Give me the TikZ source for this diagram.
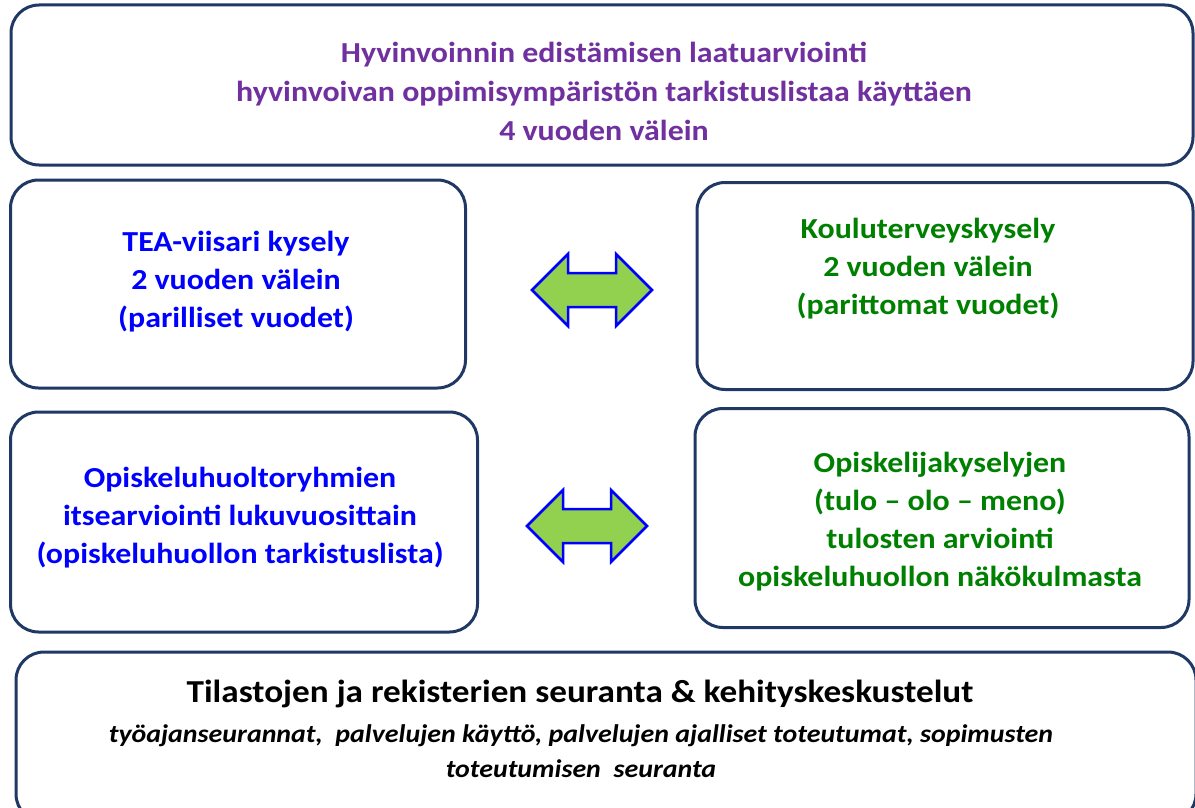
\documentclass[tikz,border=0pt]{standalone}
\usepackage{fontspec}
\setmainfont{Carlito}
\newfontfamily\boxfont[FakeStretch=1.1,Ligatures=TeX]{Carlito}
\definecolor{boxline}{RGB}{31,56,100}
\definecolor{titlepurple}{RGB}{112,48,160}
\definecolor{textblue}{RGB}{0,0,255}
\definecolor{textgreen}{RGB}{0,128,0}
\definecolor{arrowfill}{RGB}{146,208,80}
\tikzset{
  card/.style={draw=boxline,line width=3pt,rounded corners=28pt,fill=white,inner sep=0pt},
  label/.style={align=center,font=\boxfont\bfseries\fontsize{29}{38}\selectfont,inner sep=0pt},
  dblarrow/.pic={
    \draw[draw=textblue,line width=2.5pt,fill=arrowfill,line join=miter]
      (-60,0) -- (-24,36) -- (-24,17) -- (24,17) -- (24,36) -- (60,0)
      -- (24,-36) -- (24,-17) -- (-24,-17) -- (-24,-36) -- cycle;
  }
}
\begin{document}
\begin{tikzpicture}[x=1pt,y=-1pt]
  \useasboundingbox (0,0) rectangle (1195,808);
  % boxes
  \node[card,minimum width=1182pt,minimum height=160pt] (laatu) at (602,85) {};
  \node[card,minimum width=455pt,minimum height=208pt] (tea) at (238,284) {};
  \node[card,minimum width=496pt,minimum height=207pt] (kouluterveys) at (945,286) {};
  \node[card,minimum width=467pt,minimum height=220pt] (itsearvio) at (244,522) {};
  \node[card,minimum width=494pt,minimum height=219pt] (opiskelija) at (942,518) {};
  \node[card,minimum width=1180pt,minimum height=170pt] (tilastot) at (606,737) {};
  % texts
  \node[label,text=titlepurple,font=\boxfont\bfseries\fontsize{29}{39}\selectfont] (laatuteksti) at (604,91)
    {Hyvinvoinnin edistämisen laatuarviointi\\
     hyvinvoivan oppimisympäristön tarkistuslistaa käyttäen\\
     4 vuoden välein};
  \node[label,text=textblue] (teateksti) at (236,282)
    {TEA-viisari kysely\\2 vuoden välein\\(parilliset vuodet)};
  \node[label,text=textgreen] (kouluteksti) at (928,269)
    {Kouluterveyskysely\\2 vuoden välein\\(parittomat vuodet)};
  \node[label,text=textblue] (itseteksti) at (240,518)
    {Opiskeluhuoltoryhmien\\itsearviointi lukuvuosittain\\(opiskeluhuollon tarkistuslista)};
  \node[label,text=textgreen] (opiskteksti) at (940,522)
    {Opiskelijakyselyjen\\(tulo – olo – meno)\\tulosten arviointi\\opiskeluhuollon näkökulmasta};
  \node[label,font=\boxfont\bfseries\fontsize{32}{38}\selectfont] (tilastoteksti) at (580,694)
    {Tilastojen ja rekisterien seuranta \& kehityskeskustelut};
  \node[align=center,inner sep=0pt,font=\boxfont\bfseries\itshape\fontsize{25.4}{35}\selectfont] (seurantateksti) at (581,751)
    {työajanseurannat,~ palvelujen käyttö, palvelujen ajalliset toteutumat, sopimusten\\
     toteutumisen~ seuranta};
  % arrows between the survey boxes
  \pic at (592,290) {dblarrow};
  \pic at (587,526) {dblarrow};
\end{tikzpicture}
\end{document}
